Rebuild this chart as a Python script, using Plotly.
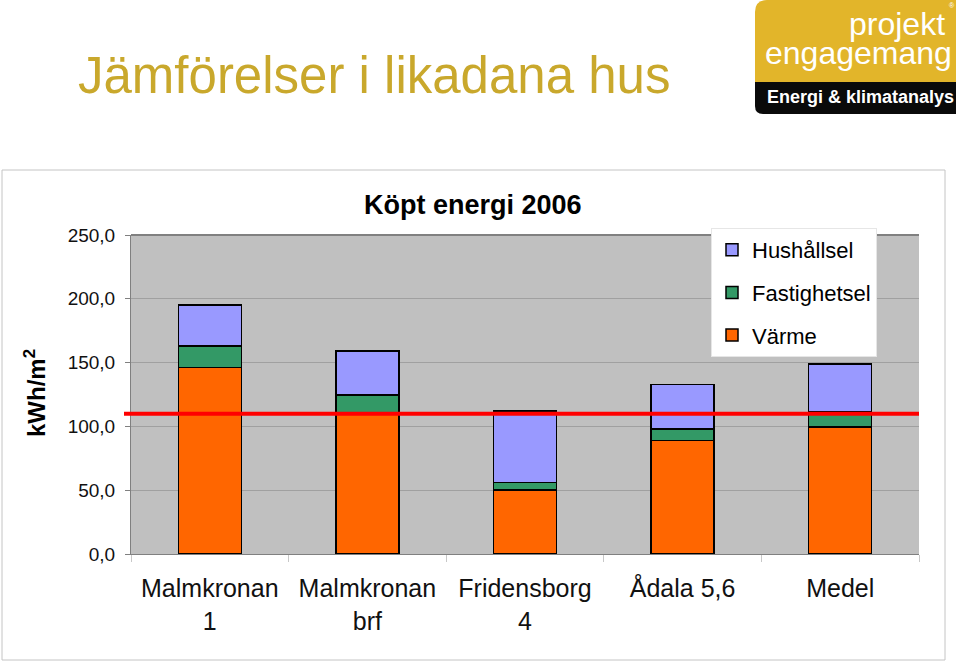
import plotly.graph_objects as go

categories = ["Malmkronan<br>1", "Malmkronan<br>brf", "Fridensborg<br>4", "Ådala 5,6", "Medel"]
varme = [146, 110, 50, 89, 99.5]
fastighetsel = [17, 14.5, 6, 9, 12]
hushallsel = [32, 34.5, 56, 35, 37.5]
target_line = 110
y_ticks = [0, 50, 100, 150, 200, 250]

# pixel -> paper helpers (plot area 131..919 x, 235..554 y)
L, R, T, B = 131, 919, 235, 554
def px(x):
    return (x - L) / (R - L)
def py(y):
    return (B - y) / (B - T)

fig = go.Figure()
series = [("Värme", varme, "#FF6600", 3), ("Fastighetsel", fastighetsel, "#339966", 2),
          ("Hushållsel", hushallsel, "#9999FF", 1)]
for name, vals, col, rank in series:
    fig.add_trace(go.Bar(x=categories, y=vals, name=name, legendgroup=name, legendrank=rank,
                         marker=dict(color=col, line=dict(color="black", width=1.5))))

fig.update_layout(
    width=960, height=661,
    margin=dict(l=L, r=960 - R, t=T, b=661 - B, autoexpand=False),
    paper_bgcolor="white", plot_bgcolor="#C0C0C0",
    barmode="stack", bargap=0.6,
    separators=",.",
    font=dict(family="Arial, Liberation Sans, sans-serif", color="black"),
    showlegend=True,
    legend=dict(x=px(711), y=py(228), xanchor="left", yanchor="top",
                bgcolor="white", bordercolor="#e6e6e6", borderwidth=1,
                font=dict(size=22, color="black"), traceorder="grouped",
                tracegroupgap=11, itemwidth=30),
)
fig.update_yaxes(range=[0, 250], tickvals=y_ticks, tickformat=".1f",
                 showgrid=True, gridcolor="#A0A0A0", gridwidth=1,
                 showline=True, linecolor="#808080", linewidth=1,
                 ticks="outside", ticklen=5, tickcolor="#808080",
                 tickfont=dict(size=19, color="#111"), ticklabelstandoff=6,
                 zeroline=False)
fig.update_xaxes(range=[-0.5, 4.5], showline=True, linecolor="#808080", linewidth=1,
                 ticks="outside", tickson="boundaries", ticklen=7, tickcolor="#c8c8c8",
                 tickfont=dict(size=25, color="#111"), ticklabelstandoff=12)

shapes = []
# plot-area top border
shapes.append(dict(type="line", xref="paper", yref="paper", x0=0, x1=1, y0=1, y1=1,
                   line=dict(color="#808080", width=2)))
# target line
shapes.append(dict(type="line", xref="paper", yref="y", x0=px(124), x1=1,
                   y0=target_line, y1=target_line, line=dict(color="#FF0000", width=4)))
# outer chart frame
shapes.append(dict(type="rect", xref="paper", yref="paper", x0=px(2), x1=px(945),
                   y0=py(660), y1=py(170), line=dict(color="#c4c4c4", width=1),
                   fillcolor="rgba(0,0,0,0)", layer="below"))
# logo yellow block with rounded top-left corner
r = 12
path = (f"M {px(755)},{py(82)} L {px(755)},{py(r)} Q {px(755)},{py(0)} {px(755+r)},{py(0)} "
        f"L {px(956)},{py(0)} L {px(956)},{py(82)} Z")
shapes.append(dict(type="path", xref="paper", yref="paper", path=path,
                   fillcolor="#E2B52A", line=dict(width=0)))
path2 = (f"M {px(755)},{py(82)} L {px(956)},{py(82)} L {px(956)},{py(114)} "
         f"L {px(755+8)},{py(114)} Q {px(755)},{py(114)} {px(755)},{py(106)} Z")
shapes.append(dict(type="path", xref="paper", yref="paper", path=path2,
                   fillcolor="#0a0a0a", line=dict(width=0)))
fig.update_layout(shapes=shapes)

ann = []
ann.append(dict(text="Jämförelser i likadana hus", xref="paper", yref="paper",
                x=px(76), y=py(75), xanchor="left", yanchor="middle", showarrow=False,
                font=dict(size=51, color="#C9A82C")))
ann.append(dict(text="<b>Köpt energi 2006</b>", xref="paper", yref="paper",
                x=px(473), y=py(205), xanchor="center", yanchor="middle", showarrow=False,
                font=dict(size=27, color="black")))
ann.append(dict(text="<b>kWh/m<sup>2</sup></b>", xref="paper", yref="paper",
                x=px(35), y=py(393), xanchor="center", yanchor="middle", showarrow=False,
                textangle=-90, font=dict(size=24, color="black")))
# logo text
ann.append(dict(text="projekt", xref="paper", yref="paper", x=px(947), y=py(24),
                xanchor="right", yanchor="middle", showarrow=False,
                font=dict(size=32, color="white")))
ann.append(dict(text="engagemang", xref="paper", yref="paper", x=px(954), y=py(53),
                xanchor="right", yanchor="middle", showarrow=False,
                font=dict(size=32, color="white")))
ann.append(dict(text="®", xref="paper", yref="paper", x=px(952), y=py(6),
                xanchor="center", yanchor="middle", showarrow=False,
                font=dict(size=7, color="white")))
ann.append(dict(text="<b>Energi & klimatanalys</b>", xref="paper", yref="paper", x=px(860),
                y=py(97), xanchor="center", yanchor="middle", showarrow=False,
                font=dict(size=18, color="white")))
fig.update_layout(annotations=ann)

fig.write_html("out.html", config={"displayModeBar": False},
               post_script="document.body.style.margin='0';")
